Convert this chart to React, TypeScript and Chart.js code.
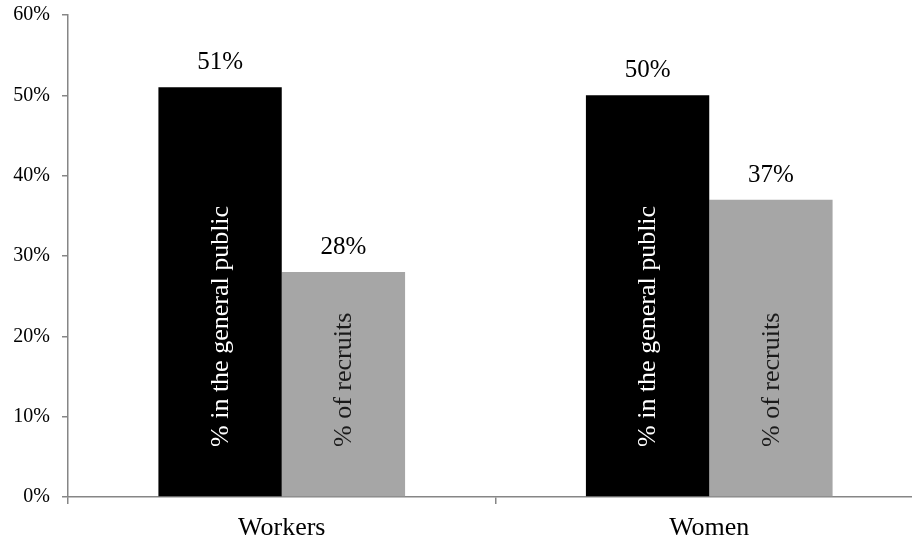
import React, { useEffect, useRef } from "react";
import { Chart, registerables } from "chart.js";

Chart.register(...registerables);

// Share of each group: in the general public vs. among recruits
const categories = ["Workers", "Women"];
const seriesNames = ["% in the general public", "% of recruits"];
const generalPublic = [51, 50];
const recruits = [28, 37];
const yTicks = [0, 10, 20, 30, 40, 50, 60];

const AXIS_GREY = "#868686";
const FONT = "'Liberation Serif', 'Times New Roman', serif";

const barLabels = {
  id: "barLabels",
  afterDatasetsDraw(chart: any) {
    const { ctx } = chart;
    const yScale = chart.scales.y;
    const base = yScale.getPixelForValue(0);
    chart.data.datasets.forEach((ds: any, di: number) => {
      const meta = chart.getDatasetMeta(di);
      meta.data.forEach((bar: any, i: number) => {
        const v = ds.data[i];
        // value above the bar
        ctx.save();
        ctx.fillStyle = "#000";
        ctx.font = `25px ${FONT}`;
        ctx.textAlign = "center";
        ctx.textBaseline = "alphabetic";
        ctx.fillText(`${v}%`, bar.x, bar.y - 18);
        ctx.restore();
        // series name written up the bar
        ctx.save();
        ctx.translate(bar.x + 1, base - 50);
        ctx.rotate(-Math.PI / 2);
        ctx.fillStyle = di === 0 ? "#ffffff" : "#1a1a1a";
        ctx.font = `26px ${FONT}`;
        ctx.textAlign = "left";
        ctx.textBaseline = "middle";
        ctx.fillText(ds.label, 0, 0);
        ctx.restore();
      });
    });
  },
};

export default function App() {
  const canvasRef = useRef<HTMLCanvasElement | null>(null);

  useEffect(() => {
    if (!canvasRef.current) return;
    const chart = new Chart(canvasRef.current, {
      type: "bar",
      data: {
        labels: categories,
        datasets: [
          {
            label: seriesNames[0],
            data: generalPublic,
            backgroundColor: "#000000",
            categoryPercentage: 0.577,
            barPercentage: 1,
          },
          {
            label: seriesNames[1],
            data: recruits,
            backgroundColor: "#a6a6a6",
            categoryPercentage: 0.577,
            barPercentage: 1,
          },
        ],
      },
      options: {
        animation: false,
        responsive: false,
        layout: { padding: { top: 15, right: 2, left: 0, bottom: 0 } },
        plugins: {
          legend: { display: false },
          tooltip: { enabled: false },
        },
        scales: {
          x: {
            grid: {
              display: true,
              drawOnChartArea: false,
              drawTicks: true,
              tickLength: 7,
              color: AXIS_GREY,
              lineWidth: 1.5,
            },
            border: { display: true, color: AXIS_GREY, width: 1.5 },
            ticks: {
              color: "#000",
              font: { family: FONT, size: 26 },
              padding: 9,
            },
            afterFit(scale: any) {
              scale.height = 44;
              scale.paddingLeft = 0;
              scale.paddingRight = 0;
            },
          },
          y: {
            min: 0,
            max: 60,
            afterBuildTicks(scale: any) {
              scale.ticks = yTicks.map((v) => ({ value: v }));
            },
            grid: {
              display: true,
              drawOnChartArea: false,
              drawTicks: true,
              tickLength: 6,
              color: AXIS_GREY,
              lineWidth: 1.5,
            },
            border: { display: true, color: AXIS_GREY, width: 1.5 },
            ticks: {
              color: "#000",
              font: { family: FONT, size: 20 },
              padding: 12,
              callback: (v: any) => `${v}%`,
            },
            afterFit(scale: any) {
              scale.width = 68;
              scale.paddingTop = 0;
              scale.paddingBottom = 0;
            },
          },
        },
      },
      plugins: [barLabels],
    });
    return () => chart.destroy();
  }, []);

  return (
    <div
      style={{
        position: "fixed",
        left: 0,
        top: 0,
        width: 912,
        height: 541,
        overflow: "hidden",
        background: "#fff",
      }}
    >
      <canvas ref={canvasRef} width={925} height={541} style={{ display: "block" }} />
    </div>
  );
}
